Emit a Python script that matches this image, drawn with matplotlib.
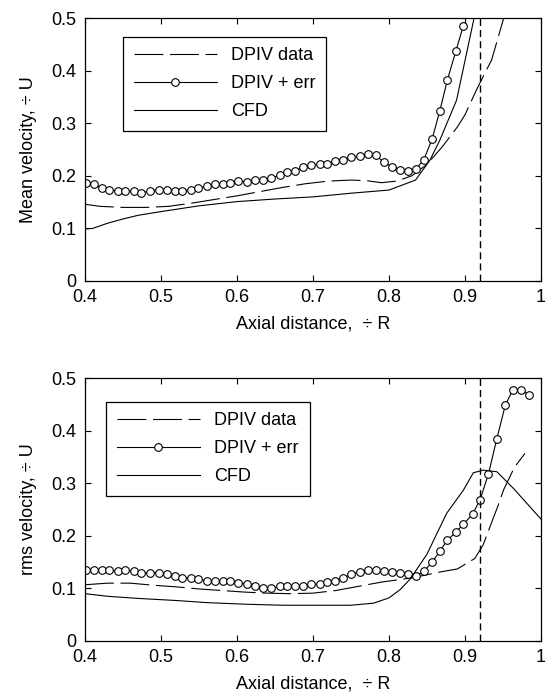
import numpy as np
import matplotlib
matplotlib.use("Agg")
from matplotlib import pyplot as plt

plt.rcParams['font.family'] = ['Liberation Sans', 'DejaVu Sans']

# -----------------------------
# Top panel: mean velocity
# -----------------------------
mean_dpiv_x = [0.40, 0.42, 0.45, 0.48, 0.51, 0.54, 0.57, 0.60, 0.63, 0.66, 0.69,
               0.72, 0.75, 0.77, 0.79, 0.81, 0.83, 0.85, 0.87, 0.89, 0.90, 0.915,
               0.925, 0.935, 0.951]
mean_dpiv_y = [0.146, 0.142, 0.140, 0.140, 0.142, 0.148, 0.155, 0.162, 0.170, 0.178,
               0.185, 0.190, 0.192, 0.191, 0.187, 0.190, 0.200, 0.222, 0.255, 0.293,
               0.316, 0.363, 0.392, 0.420, 0.500]

mean_err_x = [0.401, 0.412, 0.422, 0.432, 0.443, 0.453, 0.464, 0.474, 0.486, 0.497,
              0.508, 0.518, 0.528, 0.540, 0.549, 0.560, 0.571, 0.581, 0.591, 0.602,
              0.613, 0.624, 0.634, 0.645, 0.656, 0.666, 0.677, 0.687, 0.698, 0.709,
              0.719, 0.729, 0.740, 0.750, 0.762, 0.772, 0.783, 0.793, 0.804, 0.815,
              0.825, 0.836, 0.846, 0.857, 0.867, 0.877, 0.888, 0.898]
mean_err_y = [0.187, 0.184, 0.177, 0.174, 0.171, 0.171, 0.171, 0.168, 0.171, 0.174,
              0.174, 0.172, 0.171, 0.174, 0.177, 0.180, 0.184, 0.185, 0.187, 0.190,
              0.189, 0.192, 0.193, 0.196, 0.201, 0.208, 0.210, 0.216, 0.220, 0.222,
              0.222, 0.229, 0.231, 0.235, 0.237, 0.241, 0.239, 0.226, 0.217, 0.211,
              0.210, 0.214, 0.231, 0.271, 0.324, 0.383, 0.437, 0.486]

mean_cfd_x = [0.40, 0.41, 0.43, 0.45, 0.47, 0.50, 0.55, 0.60, 0.65, 0.70, 0.75,
              0.80, 0.835, 0.854, 0.867, 0.889, 0.912]
mean_cfd_y = [0.099, 0.100, 0.110, 0.118, 0.125, 0.132, 0.143, 0.151, 0.156, 0.160,
              0.167, 0.173, 0.192, 0.230, 0.268, 0.344, 0.500]

# -----------------------------
# Bottom panel: rms velocity
# -----------------------------
rms_dpiv_x = [0.40, 0.43, 0.46, 0.49, 0.52, 0.55, 0.58, 0.61, 0.64, 0.67, 0.70,
              0.73, 0.76, 0.79, 0.81, 0.83, 0.85, 0.87, 0.89, 0.913, 0.924, 0.935,
              0.944, 0.951, 0.965, 0.979]
rms_dpiv_y = [0.107, 0.110, 0.110, 0.106, 0.103, 0.099, 0.096, 0.093, 0.091, 0.090,
              0.091, 0.096, 0.104, 0.112, 0.116, 0.120, 0.126, 0.132, 0.137, 0.157,
              0.183, 0.225, 0.259, 0.288, 0.330, 0.357]

rms_err_x = [0.401, 0.412, 0.422, 0.432, 0.443, 0.453, 0.464, 0.474, 0.486, 0.497,
             0.508, 0.518, 0.528, 0.540, 0.549, 0.560, 0.571, 0.581, 0.591, 0.602,
             0.613, 0.624, 0.634, 0.645, 0.656, 0.666, 0.677, 0.687, 0.698, 0.709,
             0.719, 0.729, 0.740, 0.750, 0.762, 0.772, 0.783, 0.793, 0.804, 0.815,
             0.825, 0.836, 0.846, 0.857, 0.867, 0.877, 0.888, 0.898, 0.910, 0.920,
             0.931, 0.942, 0.953, 0.963, 0.974, 0.984]
rms_err_y = [0.135, 0.135, 0.135, 0.135, 0.133, 0.135, 0.133, 0.130, 0.130, 0.130,
             0.127, 0.123, 0.120, 0.120, 0.117, 0.115, 0.115, 0.114, 0.114, 0.111,
             0.108, 0.104, 0.101, 0.100, 0.104, 0.104, 0.104, 0.104, 0.108, 0.108,
             0.113, 0.115, 0.120, 0.127, 0.132, 0.135, 0.135, 0.133, 0.132, 0.130,
             0.128, 0.123, 0.133, 0.150, 0.171, 0.192, 0.207, 0.222, 0.241, 0.269,
             0.318, 0.385, 0.448, 0.478, 0.478, 0.468]

rms_cfd_x = [0.40, 0.43, 0.47, 0.52, 0.56, 0.61, 0.66, 0.70, 0.75, 0.78, 0.80,
             0.815, 0.828, 0.850, 0.876, 0.898, 0.911, 0.924, 0.942, 0.964, 1.0]
rms_cfd_y = [0.090, 0.085, 0.081, 0.077, 0.073, 0.070, 0.068, 0.068, 0.068, 0.072,
             0.082, 0.098, 0.118, 0.165, 0.243, 0.287, 0.320, 0.325, 0.322, 0.290,
             0.232]

x_ticks = [0.4, 0.5, 0.6, 0.7, 0.8, 0.9, 1.0]
x_tick_labels = ["0.4", "0.5", "0.6", "0.7", "0.8", "0.9", "1"]
y_ticks = [0, 0.1, 0.2, 0.3, 0.4, 0.5]
y_tick_labels = ["0", "0.1", "0.2", "0.3", "0.4", "0.5"]
wall_x = 0.92

FS = 13

fig = plt.figure(figsize=(5.5, 6.99), dpi=100)
ax_top = fig.add_axes([0.1545, 0.598, 0.829, 0.376])
ax_bot = fig.add_axes([0.1545, 0.083, 0.829, 0.376])

panels = [
    (ax_top, mean_dpiv_x, mean_dpiv_y, mean_err_x, mean_err_y, mean_cfd_x, mean_cfd_y,
     "Mean velocity, \u00f7 U", (0.083, 0.93)),
    (ax_bot, rms_dpiv_x, rms_dpiv_y, rms_err_x, rms_err_y, rms_cfd_x, rms_cfd_y,
     "rms velocity, \u00f7 U", (0.046, 0.911)),
]

for ax, dx, dy, ex, ey, cx, cy, ylab, leg_pos in panels:
    ax.plot(dx, dy, color='black', lw=0.8, dashes=(26, 6), label='DPIV data')
    ax.plot(ex, ey, color='black', lw=0.8, marker='o', ms=5.5, mfc='white',
            mec='black', mew=0.8, label='DPIV + err')
    ax.plot(cx, cy, color='black', lw=0.8, label='CFD')
    ax.axvline(wall_x, color='black', lw=1.0, dashes=(5, 3))

    ax.set_xlim(0.4, 1.0)
    ax.set_ylim(0, 0.5)
    ax.set_xticks(x_ticks)
    ax.set_xticklabels(x_tick_labels)
    ax.set_yticks(y_ticks)
    ax.set_yticklabels(y_tick_labels)
    ax.tick_params(direction='in', top=True, right=True, length=4, width=0.8,
                   labelsize=FS)
    ax.tick_params(axis='x', pad=6)
    ax.tick_params(axis='y', pad=6)
    for s in ax.spines.values():
        s.set_linewidth(0.9)
    ax.set_xlabel("Axial distance,  \u00f7 R", fontsize=FS)
    ax.xaxis.set_label_coords(0.5, -0.13)
    ax.set_ylabel(ylab, fontsize=FS)
    ax.yaxis.set_label_coords(-0.105, 0.5)

    leg = ax.legend(loc='upper left', bbox_to_anchor=leg_pos, borderaxespad=0,
                    fontsize=FS, handlelength=4.6, handletextpad=0.8,
                    labelspacing=0.6, borderpad=0.6, fancybox=False,
                    framealpha=1, edgecolor='black', numpoints=1)
    leg.get_frame().set_linewidth(0.9)

fig.savefig("out.png", dpi=100)
